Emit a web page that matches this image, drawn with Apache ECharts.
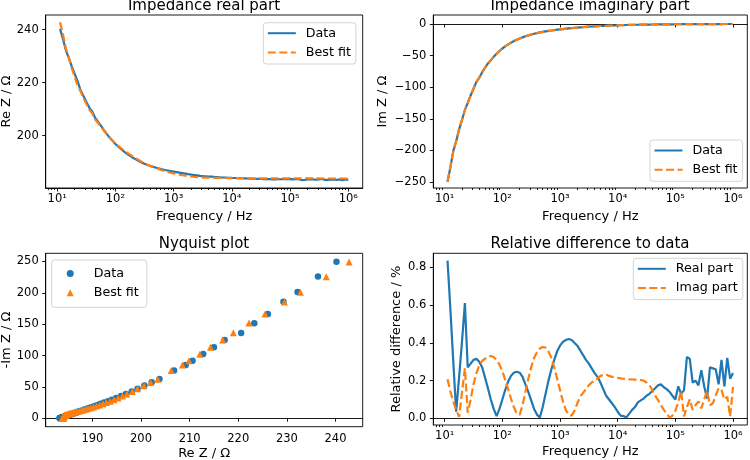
<!DOCTYPE html>
<html><head><meta charset="utf-8">
<script src="https://cdn.jsdelivr.net/npm/echarts@6/dist/echarts.min.js"></script>
<style>html,body{margin:0;padding:0;background:#fff}#c{width:750px;height:460px}</style>
</head><body><div id="c"></div>
<script>
// ---- data ----
const freq = [11.2,12.6,14.1,15.8,17.8,20.0,22.4,25.1,28.2,31.6,35.5,39.8,44.7,56.2,63.1,70.8,79.4,89.1,100,
112,126,141,158,178,200,224,251,282,316,355,398,447,501,562,631,708,794,891,1000,
1122,1259,1413,1585,1778,1995,2239,2512,2818,3162,3548,3981,4467,5012,5623,6310,7079,7943,8913,10000,
11220,12590,14130,15850,17780,19950,22390,25120,28180,31620,35480,39810,44670,50120,56230,63100,70790,79430,89130,100000,
112200,125900,141300,158500,177800,199500,223900,251200,281800,316200,354800,398100,446700,501200,562300,631000,707900,794300,891300,1000000];

const reData = [240.2,236.4,232.2,229.3,226.1,223.3,220.6,217.2,215.0,212.8,210.6,209.2,206.8,
203.8,202.2,200.7,199.3,198.1,196.9,
195.9,194.9,194.0,193.2,192.4,191.7,191.1,190.5,189.95,189.45,189.0,188.6,188.25,187.95,187.65,187.35,
187.1,186.9,186.7,186.5,
186.3,186.1,185.9,185.7,185.5,185.35,185.2,185.05,
184.90,184.80,184.71,184.62,184.56,184.47,184.39,184.30,184.25,184.21,184.17,184.11,
184.07,184.05,184.01,183.95,183.90,183.86,183.80,183.78,183.75,183.71,183.68,183.64,183.62,183.58,183.57,183.60,183.61,183.64,183.68,183.72,
183.58,183.65,183.61,183.29,183.31,183.54,183.52,183.57,183.42,183.58,183.69,183.38,183.39,183.40,183.55,183.31,183.57,183.29,183.49,183.44];

const reFit = [242.8,238.1,232.8,229.5,225.5,222.2,219.0,216.8,214.3,212.1,209.88,208.52,206.21,
203.46,201.99,200.6,199.28,198.2,197.1,
196.19,195.28,194.44,193.67,192.87,192.16,191.52,190.84,190.22,189.63,189.09,188.64,188.25,187.84,187.41,186.98,
186.61,186.32,186.04,185.78,
185.55,185.33,185.12,184.93,184.76,184.64,184.53,184.43,
184.33,184.27,184.22,184.18,184.15,184.12,184.10,184.08,184.07,184.06,184.055,184.05,
184.04,184.03,184.02,184.0,183.98,183.97,183.96,183.95,183.94,183.93,183.92,183.91,183.91,183.9,183.9,183.9,183.9,183.9,183.9,183.9,
183.89,183.89,183.89,183.89,183.89,183.89,183.89,183.89,183.89,183.89,183.88,183.88,183.88,183.88,183.88,183.88,183.88,183.88,183.88,183.88];

const imData = [-249.5,-226.1,-201.1,-185.6,-166.4,-151.5,-136.0,-124.8,-113.1,-102.4,-91.7,-85.0,-76.2,
-62.4,-57.3,-52.0,-47.2,-42.8,-38.8,
-35.4,-32.3,-29.6,-27.1,-24.9,-22.9,-21.2,-19.5,-18.05,-16.7,-15.5,-14.4,-13.4,-12.5,-11.7,-10.95,
-10.3,-9.63,-9.05,-8.5,
-8.0,-7.5,-7.0,-6.55,-6.1,-5.7,-5.3,-4.95,
-4.6,-4.3,-4.0,-3.72,-3.46,-3.22,-3.0,-2.78,-2.58,-2.4,-2.22,-2.06,
-1.91,-1.77,-1.64,-1.52,-1.41,-1.3,-1.2,-1.11,-1.03,-0.95,-0.88,-0.82,-0.76,-0.70,-0.65,-0.61,-0.56,-0.52,-0.49,-0.45,
-0.41,-0.37,-0.33,-0.30,-0.27,-0.245,-0.22,-0.2,-0.18,-0.16,-0.145,-0.13,-0.12,-0.105,-0.095,-0.085,-0.077,-0.07,-0.062,-0.055];

const imFit = [-249.0,-225.8,-200.9,-185.5,-166.4,-151.7,-136.4,-124.8,-113.0,-102.2,-91.5,-84.8,-76.0,
-62.2,-57.1,-51.8,-47.05,-42.7,-38.7,
-35.33,-32.25,-29.57,-27.08,-24.89,-22.9,-21.22,-19.53,-18.09,-16.75,-15.55,-14.45,-13.45,-12.55,-11.74,-10.99,
-10.33,-9.66,-9.07,-8.51,
-8.0,-7.5,-7.0,-6.55,-6.1,-5.7,-5.3,-4.94,
-4.59,-4.29,-3.99,-3.71,-3.45,-3.21,-2.99,-2.77,-2.57,-2.39,-2.21,-2.06,
-1.91,-1.77,-1.64,-1.52,-1.41,-1.3,-1.2,-1.11,-1.03,-0.95,-0.88,-0.82,-0.76,-0.70,-0.65,-0.61,-0.56,-0.52,-0.49,-0.45,
-0.41,-0.37,-0.33,-0.30,-0.27,-0.245,-0.22,-0.2,-0.18,-0.16,-0.145,-0.13,-0.12,-0.105,-0.095,-0.085,-0.077,-0.07,-0.062,-0.055];

const relReal = [0.835,0.57,0.30,0.035,0.22,0.41,0.61,0.27,0.29,0.31,
0.315,0.30,0.27,0.16,0.10,0.05,0.012,0.05,0.10,
0.15,0.195,0.225,0.242,0.247,0.242,0.22,0.18,0.14,0.095,
0.05,0.02,0.005,0.06,0.13,0.20,0.26,0.31,0.355,0.385,
0.405,0.415,0.42,0.415,0.40,0.385,0.36,0.335,0.31,0.29,
0.265,0.24,0.22,0.19,0.155,0.12,0.10,0.08,0.06,0.035,
0.015,0.012,0.005,0.025,0.045,0.06,0.085,0.095,0.105,0.12,
0.13,0.145,0.16,0.175,0.18,0.165,0.155,0.14,0.12,0.10,
0.17,0.13,0.15,0.325,0.315,0.19,0.20,0.175,0.255,0.17,
0.105,0.27,0.265,0.26,0.18,0.31,0.17,0.32,0.21,0.24];

const relImag = [0.207,0.14,0.09,0.045,0.008,0.14,0.265,0.03,0.10,0.18,
0.24,0.28,0.305,0.328,0.33,0.325,0.31,0.285,0.25,
0.205,0.155,0.105,0.06,0.025,0.02,0.07,0.14,0.21,0.27,
0.32,0.35,0.37,0.378,0.375,0.355,0.32,0.27,0.21,0.15,
0.09,0.045,0.018,0.015,0.04,0.08,0.115,0.135,0.155,0.176,
0.19,0.20,0.21,0.225,0.23,0.232,0.225,0.22,0.22,0.215,
0.212,0.21,0.208,0.207,0.206,0.205,0.204,0.203,0.20,0.19,
0.176,0.15,0.12,0.097,0.07,0.045,0.025,0.004,0.015,0.04,
0.085,0.145,0.01,0.06,0.10,0.045,0.07,0.09,0.053,0.10,
0.145,0.07,0.08,0.12,0.16,0.15,0.10,0.115,0.01,0.167];

// tick values
const freqTicks = [10,100,1000,10000,100000,1000000];
const reTicks = [200,220,240];
const imTicks = [-250,-200,-150,-100,-50,0];
const nyqXTicks = [190,200,210,220,230,240];
const nyqYTicks = [0,50,100,150,200,250];
const relTicks = [0,0.2,0.4,0.6,0.8];

// ---- styling ----
const FONT = 'DejaVu Sans';
const C1 = '#1f77b4', C2 = '#ff7f0e';
const FMIN = 6.346, FMAX = 1768400;
const minorTicks = [];
for (let e = 0; e <= 6; e++) for (let k = 2; k <= 9; k++) { const v = k * Math.pow(10, e); if (v > FMIN && v < FMAX) minorTicks.push(v); }
const sup = {1:'\u00b9',2:'\u00b2',3:'\u00b3',4:'\u2074',5:'\u2075',6:'\u2076'};
const fmtMinus = v => (v < 0 ? '\u2212' : '') + Math.abs(v);

const lineAx = {show: true, lineStyle: {color: '#000', width: 0.9}};
function tickSty(vals, len) { return {show: true, inside: false, length: len, customValues: vals, lineStyle: {color: '#000', width: 0.9}}; }
function labSty(vals, fmt, margin) { return {show: true, customValues: vals, formatter: fmt, color: '#000', fontSize: 11.5, fontFamily: FONT, margin: margin}; }
const nameSty = {color: '#000', fontSize: 13, fontFamily: FONT};

function logX(gi, withName) {
  return [{
    type: 'log', logBase: 10, gridIndex: gi, min: FMIN, max: FMAX, position: 'bottom',
    axisLine: lineAx, axisTick: tickSty(freqTicks, 3.5),
    axisLabel: labSty(freqTicks, v => '10' + sup[Math.round(Math.log10(v))], 5),
    splitLine: {show: false}, minorTick: {show: false},
    name: withName, nameLocation: 'middle', nameGap: 22, nameTextStyle: nameSty
  }, {
    type: 'log', logBase: 10, gridIndex: gi, min: FMIN, max: FMAX, position: 'bottom',
    axisLine: {show: false}, axisTick: tickSty(minorTicks, 2), axisLabel: {show: false},
    splitLine: {show: false}
  }];
}
function valY(gi, min, max, ticks, fmt, name, gap) {
  return {
    type: 'value', gridIndex: gi, min: min, max: max,
    axisLine: lineAx, axisTick: tickSty(ticks, 3.5),
    axisLabel: labSty(ticks, fmt, 7),
    splitLine: {show: false},
    name: name, nameLocation: 'middle', nameGap: gap, nameRotate: 90, nameTextStyle: nameSty
  };
}
const gridBase = {show: true, borderColor: '#000', borderWidth: 0.9, backgroundColor: 'transparent', containLabel: false, outerBoundsMode: 'none'};
function legendBox(left, top, names, iw, ih, pad, textPad, hideSym) {
  const o = {
    left: left, top: top, orient: 'vertical', data: names,
    itemWidth: iw, itemHeight: ih, itemGap: 5.3,
    padding: pad,
    backgroundColor: 'rgba(255,255,255,0.8)', borderColor: '#d4d4d4', borderWidth: 1, borderRadius: 3,
    formatter: n => n.split('|')[0],
    textStyle: {color: '#000', fontSize: 12.7, fontFamily: FONT, lineHeight: 14, padding: [0, 0, 0, textPad]},
    selectedMode: false
  };
  if (hideSym) o.itemStyle = {opacity: 0};
  return o;
}
function titleAt(text, cx, top) {
  return {text: text, left: cx, top: top, textAlign: 'center', padding: 0,
    textStyle: {color: '#000', fontSize: 15, fontWeight: 'normal', fontFamily: FONT}};
}
const pairs = (xs, ys) => xs.map((x, i) => [x, ys[i]]);

const xAxes = [].concat(
  logX(0, 'Frequency / Hz'),   // 0,1
  logX(1, 'Frequency / Hz'),   // 2,3
  [{
    type: 'value', gridIndex: 2, min: 180.4, max: 245.6,
    axisLine: lineAx, axisTick: tickSty(nyqXTicks, 3.5),
    axisLabel: labSty(nyqXTicks, v => String(v), 6),
    splitLine: {show: false},
    name: 'Re Z / \u03a9', nameLocation: 'middle', nameGap: 20, nameTextStyle: nameSty
  }],                          // 4
  logX(3, 'Frequency / Hz')    // 5,6
);
xAxes[5].nameGap = 20;

const option = {
  animation: false,
  backgroundColor: '#fff',
  textStyle: {fontFamily: FONT},
  title: [
    titleAt('Impedance real part', 204, -1),
    titleAt('Impedance imaginary part', 590, -1),
    titleAt('Nyquist plot', 204, 236.5),
    titleAt('Relative difference to data', 590, 236.5)
  ],
  grid: [
    Object.assign({left: 45.7, top: 15, width: 317, height: 173}, gridBase),
    Object.assign({left: 433.3, top: 15, width: 314, height: 173}, gridBase),
    Object.assign({left: 45.7, top: 253.3, width: 317, height: 173.4}, gridBase),
    Object.assign({left: 433.3, top: 253.3, width: 314, height: 171.7}, gridBase)
  ],
  xAxis: xAxes,
  yAxis: [
    valY(0, 180.3, 245.5, reTicks, fmtMinus, 'Re Z / \u03a9', 33),
    valY(1, -259.5, 14.2, imTicks, fmtMinus, 'Im Z / \u03a9', 44),
    valY(2, -13.5, 263, nyqYTicks, fmtMinus, '-Im Z / \u03a9', 33),
    valY(3, -0.035, 0.874, relTicks, v => v.toFixed(1), 'Relative difference / %', 30)
  ],
  legend: [
    legendBox(263.3, 22.7, ['Data|re', 'Best fit|re'], 28, 14, [3.5, 5, 4.5, 3.5], 5, true),
    legendBox(650, 140, ['Data|im', 'Best fit|im'], 28, 14, [3.5, 5, 4.5, 3.5], 5, true),
    legendBox(51.7, 260, ['Data|ny', 'Best fit|ny'], 7, 7, [6.5, 8, 7.5, 15], 15, false),
    legendBox(633.3, 258.3, ['Real part', 'Imag part'], 28, 14, [3.5, 5, 4.5, 3.5], 5, true)
  ],
  series: [
    {name: 'Data|re', type: 'line', xAxisIndex: 0, yAxisIndex: 0, data: pairs(freq, reData), symbol: 'none', showSymbol: false,
      lineStyle: {color: C1, width: 2.2}, itemStyle: {color: C1}},
    {name: 'Best fit|re', type: 'line', xAxisIndex: 0, yAxisIndex: 0, data: pairs(freq, reFit), symbol: 'none', showSymbol: false,
      lineStyle: {color: C2, width: 2.2, type: [8, 3.5]}, itemStyle: {color: C2}},
    {name: 'Data|im', type: 'line', xAxisIndex: 2, yAxisIndex: 1, data: pairs(freq, imData), symbol: 'none', showSymbol: false,
      lineStyle: {color: C1, width: 2.2}, itemStyle: {color: C1}},
    {name: 'Best fit|im', type: 'line', xAxisIndex: 2, yAxisIndex: 1, data: pairs(freq, imFit), symbol: 'none', showSymbol: false,
      lineStyle: {color: C2, width: 2.2, type: [8, 3.5]}, itemStyle: {color: C2}},
    {name: 'Data|ny', type: 'scatter', xAxisIndex: 4, yAxisIndex: 2, symbol: 'circle', symbolSize: 6.5,
      data: reData.map((r, i) => [r, -imData[i]]), itemStyle: {color: C1, opacity: 1}},
    {name: 'Best fit|ny', type: 'scatter', xAxisIndex: 4, yAxisIndex: 2, symbol: 'triangle', symbolSize: 7,
      data: reFit.map((r, i) => [r, -imFit[i]]), itemStyle: {color: C2, opacity: 1}},
    {name: 'Real part', type: 'line', xAxisIndex: 5, yAxisIndex: 3, data: pairs(freq, relReal), symbol: 'none', showSymbol: false,
      lineStyle: {color: C1, width: 2.2}, itemStyle: {color: C1}},
    {name: 'Imag part', type: 'line', xAxisIndex: 5, yAxisIndex: 3, data: pairs(freq, relImag), symbol: 'none', showSymbol: false,
      lineStyle: {color: C2, width: 2.2, type: [8, 3.5]}, itemStyle: {color: C2}}
  ]
};
const chart = echarts.init(document.getElementById('c'), null, {renderer: 'canvas', width: 750, height: 460});
chart.setOption(option);
</script>
</body></html>
